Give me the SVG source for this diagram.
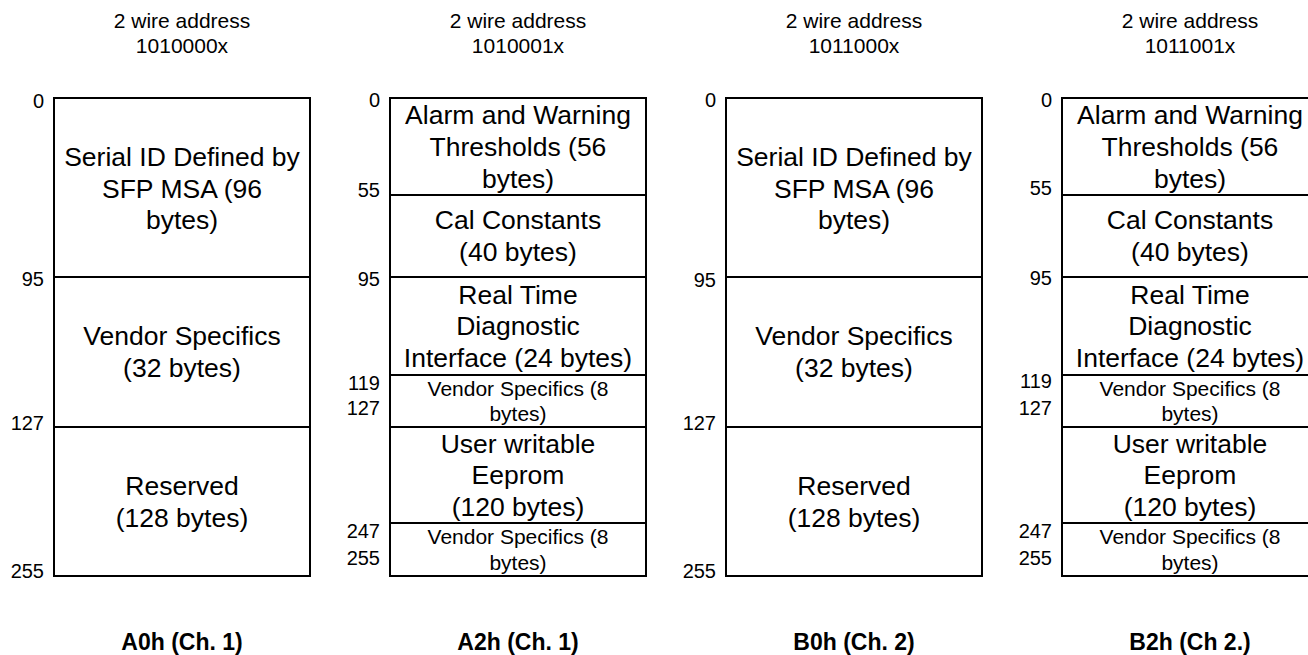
<svg xmlns="http://www.w3.org/2000/svg" width="1308" height="655" viewBox="0 0 1308 655">
<style>
text{font-family:"Liberation Sans",Arial,Helvetica,sans-serif;fill:#000}
.t{font-size:21px;text-anchor:middle}
.n{font-size:20px;text-anchor:end}
.b{font-size:26.5px;text-anchor:middle}
.s{font-size:21px;text-anchor:middle}
.f{font-size:23px;font-weight:bold;text-anchor:middle}
.box{fill:#fff;stroke:#000;stroke-width:2}
.div{stroke:#000;stroke-width:2}
</style>
<rect width="1308" height="655" fill="#fff"/>

<g id="A0h">
<text class="t" x="182" y="28">2 wire address</text>
<text class="t" x="182" y="53">1010000x</text>
<rect class="box" x="54" y="98" width="256" height="478"/>
<line class="div" x1="54" y1="277" x2="310" y2="277"/>
<line class="div" x1="54" y1="427" x2="310" y2="427"/>
<text class="n" x="44" y="108">0</text>
<text class="n" x="44" y="286">95</text>
<text class="n" x="44" y="430">127</text>
<text class="n" x="44" y="578">255</text>
<g id="A0h-serial"><text class="b" x="182" y="165.7">Serial ID Defined by</text><text class="b" x="182" y="197.5">SFP MSA (96</text><text class="b" x="182" y="229.3">bytes)</text></g>
<g id="A0h-vendor"><text class="b" x="182" y="345.4">Vendor Specifics</text><text class="b" x="182" y="377.2">(32 bytes)</text></g>
<g id="A0h-reserved"><text class="b" x="182" y="494.9">Reserved</text><text class="b" x="182" y="526.7">(128 bytes)</text></g>
<text class="f" x="182" y="650">A0h (Ch. 1)</text>
</g>

<g id="A2h">
<text class="t" x="518" y="28">2 wire address</text>
<text class="t" x="518" y="53">1010001x</text>
<rect class="box" x="390" y="98" width="256" height="478"/>
<line class="div" x1="390" y1="195" x2="646" y2="195"/>
<line class="div" x1="390" y1="277" x2="646" y2="277"/>
<line class="div" x1="390" y1="375" x2="646" y2="375"/>
<line class="div" x1="390" y1="427" x2="646" y2="427"/>
<line class="div" x1="390" y1="523" x2="646" y2="523"/>
<text class="n" x="380" y="107">0</text>
<text class="n" x="380" y="197">55</text>
<text class="n" x="380" y="286">95</text>
<text class="n" x="380" y="390">119</text>
<text class="n" x="380" y="415">127</text>
<text class="n" x="380" y="538">247</text>
<text class="n" x="380" y="565">255</text>
<g id="A2h-alarm"><text class="b" x="518" y="124.2">Alarm and Warning</text><text class="b" x="518" y="156">Thresholds (56</text><text class="b" x="518" y="187.8">bytes)</text></g>
<g id="A2h-cal"><text class="b" x="518" y="229.4">Cal Constants</text><text class="b" x="518" y="261.2">(40 bytes)</text></g>
<g id="A2h-rt"><text class="b" x="518" y="303.5">Real Time</text><text class="b" x="518" y="335.3">Diagnostic</text><text class="b" x="518" y="367.1">Interface (24 bytes)</text></g>
<g id="A2h-vs1"><text class="s" x="518" y="395.8">Vendor Specifics (8</text><text class="s" x="518" y="421">bytes)</text></g>
<g id="A2h-user"><text class="b" x="518" y="452.5">User writable</text><text class="b" x="518" y="484.3">Eeprom</text><text class="b" x="518" y="516.1">(120 bytes)</text></g>
<g id="A2h-vs2"><text class="s" x="518" y="544.3">Vendor Specifics (8</text><text class="s" x="518" y="569.5">bytes)</text></g>
<text class="f" x="518" y="650">A2h (Ch. 1)</text>
</g>

<g id="B0h">
<text class="t" x="854" y="28">2 wire address</text>
<text class="t" x="854" y="53">1011000x</text>
<rect class="box" x="726" y="98" width="256" height="478"/>
<line class="div" x1="726" y1="277" x2="982" y2="277"/>
<line class="div" x1="726" y1="427" x2="982" y2="427"/>
<text class="n" x="716" y="107">0</text>
<text class="n" x="716" y="287">95</text>
<text class="n" x="716" y="430">127</text>
<text class="n" x="716" y="578">255</text>
<g id="B0h-serial"><text class="b" x="854" y="165.7">Serial ID Defined by</text><text class="b" x="854" y="197.5">SFP MSA (96</text><text class="b" x="854" y="229.3">bytes)</text></g>
<g id="B0h-vendor"><text class="b" x="854" y="345.4">Vendor Specifics</text><text class="b" x="854" y="377.2">(32 bytes)</text></g>
<g id="B0h-reserved"><text class="b" x="854" y="494.9">Reserved</text><text class="b" x="854" y="526.7">(128 bytes)</text></g>
<text class="f" x="854" y="650">B0h (Ch. 2)</text>
</g>

<g id="B2h">
<text class="t" x="1190" y="28">2 wire address</text>
<text class="t" x="1190" y="53">1011001x</text>
<rect class="box" x="1062" y="98" width="256" height="478"/>
<line class="div" x1="1062" y1="195" x2="1318" y2="195"/>
<line class="div" x1="1062" y1="277" x2="1318" y2="277"/>
<line class="div" x1="1062" y1="375" x2="1318" y2="375"/>
<line class="div" x1="1062" y1="427" x2="1318" y2="427"/>
<line class="div" x1="1062" y1="523" x2="1318" y2="523"/>
<text class="n" x="1052" y="107">0</text>
<text class="n" x="1052" y="195">55</text>
<text class="n" x="1052" y="285">95</text>
<text class="n" x="1052" y="388">119</text>
<text class="n" x="1052" y="415">127</text>
<text class="n" x="1052" y="538">247</text>
<text class="n" x="1052" y="565">255</text>
<g id="B2h-alarm"><text class="b" x="1190" y="124.2">Alarm and Warning</text><text class="b" x="1190" y="156">Thresholds (56</text><text class="b" x="1190" y="187.8">bytes)</text></g>
<g id="B2h-cal"><text class="b" x="1190" y="229.4">Cal Constants</text><text class="b" x="1190" y="261.2">(40 bytes)</text></g>
<g id="B2h-rt"><text class="b" x="1190" y="303.5">Real Time</text><text class="b" x="1190" y="335.3">Diagnostic</text><text class="b" x="1190" y="367.1">Interface (24 bytes)</text></g>
<g id="B2h-vs1"><text class="s" x="1190" y="395.8">Vendor Specifics (8</text><text class="s" x="1190" y="421">bytes)</text></g>
<g id="B2h-user"><text class="b" x="1190" y="452.5">User writable</text><text class="b" x="1190" y="484.3">Eeprom</text><text class="b" x="1190" y="516.1">(120 bytes)</text></g>
<g id="B2h-vs2"><text class="s" x="1190" y="544.3">Vendor Specifics (8</text><text class="s" x="1190" y="569.5">bytes)</text></g>
<text class="f" x="1190" y="650">B2h (Ch 2.)</text>
</g>
</svg>
